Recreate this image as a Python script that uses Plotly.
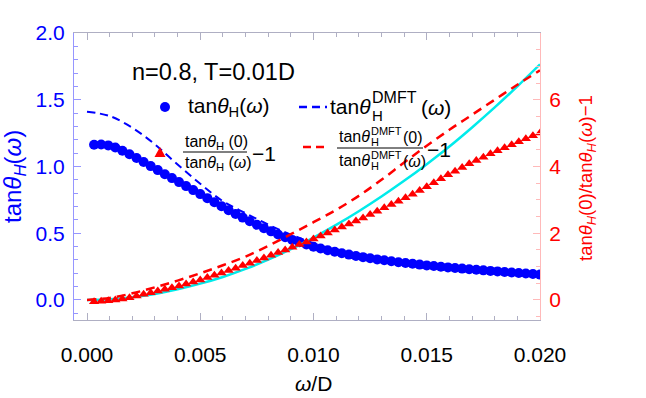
import plotly.graph_objects as go

# ---------------- data ----------------
omega = [0.0003125, 0.000625, 0.0009375, 0.00125, 0.0015625, 0.001875, 0.0021875, 0.0025,
         0.0028125, 0.003125, 0.0034375, 0.00375, 0.0040625, 0.004375, 0.0046875, 0.005,
         0.0053125, 0.005625, 0.0059375, 0.00625, 0.0065625, 0.006875, 0.0071875, 0.0075,
         0.0078125, 0.008125, 0.0084375, 0.00875, 0.0090625, 0.009375, 0.0096875, 0.01,
         0.0103125, 0.010625, 0.0109375, 0.01125, 0.0115625, 0.011875, 0.0121875, 0.0125,
         0.0128125, 0.013125, 0.0134375, 0.01375, 0.0140625, 0.014375, 0.0146875, 0.015,
         0.0153125, 0.015625, 0.0159375, 0.01625, 0.0165625, 0.016875, 0.0171875, 0.0175,
         0.0178125, 0.018125, 0.0184375, 0.01875, 0.0190625, 0.019375, 0.0196875, 0.02]

tan_theta = [1.163, 1.165, 1.158, 1.142, 1.118, 1.092, 1.063, 1.033,
             1.003, 0.973, 0.942, 0.913, 0.883, 0.853, 0.823, 0.793,
             0.763, 0.733, 0.703, 0.673, 0.645, 0.617, 0.590, 0.563,
             0.538, 0.514, 0.491, 0.470, 0.450, 0.432, 0.415, 0.399,
             0.386, 0.373, 0.361, 0.350, 0.340, 0.330, 0.321, 0.312,
             0.304, 0.297, 0.290, 0.283, 0.277, 0.271, 0.265, 0.259,
             0.254, 0.249, 0.244, 0.239, 0.235, 0.230, 0.226, 0.222,
             0.218, 0.214, 0.210, 0.206, 0.202, 0.198, 0.194, 0.190]

ratio_minus1 = [-0.05, -0.04, -0.02, 0.00, 0.03, 0.07, 0.12, 0.17,
                0.22, 0.27, 0.32, 0.37, 0.42, 0.48, 0.54, 0.60,
                0.67, 0.74, 0.81, 0.88, 0.95, 1.03, 1.10, 1.18,
                1.26, 1.34, 1.42, 1.50, 1.58, 1.66, 1.74, 1.83,
                1.92, 2.01, 2.10, 2.19, 2.28, 2.37, 2.46, 2.56,
                2.66, 2.76, 2.86, 2.96, 3.06, 3.17, 3.28, 3.39,
                3.51, 3.63, 3.75, 3.86, 3.97, 4.08, 4.18, 4.28,
                4.38, 4.47, 4.56, 4.65, 4.74, 4.83, 4.92, 5.00]

omega_line = [0.0, 0.001, 0.002, 0.003, 0.004, 0.005, 0.006, 0.007, 0.008, 0.009, 0.010,
              0.011, 0.012, 0.013, 0.014, 0.015, 0.016, 0.017, 0.018, 0.019, 0.020]
tan_theta_dmft = [1.41, 1.378, 1.29, 1.165, 1.015, 0.87, 0.74, 0.65, 0.565, 0.49, 0.425,
                  0.372, 0.330, 0.299, 0.276, 0.258, 0.243, 0.230, 0.218, 0.207, 0.197]
ratio_dmft_minus1 = [0.0, 0.06, 0.2, 0.38, 0.58, 0.8, 1.04, 1.3, 1.62, 1.97, 2.33,
                     2.7, 3.12, 3.6, 4.12, 4.62, 5.1, 5.55, 6.0, 6.45, 6.88]
fit_curve = [0.0, 0.02, 0.08, 0.18, 0.32, 0.49, 0.69, 0.93, 1.21, 1.52, 1.87,
             2.25, 2.66, 3.10, 3.57, 4.07, 4.60, 5.17, 5.77, 6.40, 7.06]

x_ticks = [0.0, 0.005, 0.010, 0.015, 0.020]
x_ticktext = ["0.000", "0.005", "0.010", "0.015", "0.020"]
y2_ticks = [0, 2, 4, 6]

FONT = "Liberation Sans, Arial, sans-serif"
BLUE = "rgb(0,0,255)"
RED = "rgb(255,0,0)"
CYAN = "rgb(0,235,235)"

fig = go.Figure()
fig.add_trace(go.Scatter(x=omega, y=tan_theta, mode="markers", yaxis="y",
                         marker=dict(color=BLUE, size=10, line=dict(width=0))))
fig.add_trace(go.Scatter(x=omega_line, y=tan_theta_dmft, mode="lines", yaxis="y",
                         line=dict(color=BLUE, width=2, dash="8px,5px", shape="spline")))
fig.add_trace(go.Scatter(x=omega_line, y=fit_curve, mode="lines", yaxis="y2",
                         line=dict(color=CYAN, width=2.5, shape="spline")))
fig.add_trace(go.Scatter(x=omega, y=ratio_minus1, mode="markers", yaxis="y2",
                         marker=dict(color=RED, size=9, symbol="triangle-up", line=dict(width=0))))
fig.add_trace(go.Scatter(x=omega_line, y=ratio_dmft_minus1, mode="lines", yaxis="y2",
                         line=dict(color=RED, width=2.5, dash="9px,6px", shape="spline")))

L, R, T, B = 74, 540, 33, 320
W, H = 646, 398


def px(x, y):
    return (x - L) / (R - L), (B - y) / (B - T)


ann = []


def text(x, y, s, size=21, color="black", anchor="left", angle=0):
    ax, ay = px(x, y)
    ann.append(dict(x=ax, y=ay, xref="paper", yref="paper", text=s, showarrow=False,
                    xanchor=anchor, yanchor="middle", textangle=angle,
                    font=dict(family=FONT, size=size, color=color)))


shapes = []


def hline(x0, x1, y, color="black", width=1, dash=None):
    a0, b0 = px(x0, y)
    a1, _ = px(x1, y)
    ln = dict(color=color, width=width)
    if dash:
        ln["dash"] = dash
    shapes.append(dict(type="line", xref="paper", yref="paper", x0=a0, x1=a1, y0=b0, y1=b0, line=ln))


# annotation text
text(130, 72, "n=0.8, T=0.01D", size=23.5)

# legend row 1
a0, b0 = px(160, 102)
a1, b1 = px(170, 112)
shapes.append(dict(type="circle", xref="paper", yref="paper", x0=a0, x1=a1, y0=b0, y1=b1,
                   fillcolor=BLUE, line=dict(width=0)))
text(186, 107, "tan<i>θ</i><sub>H</sub>(<i>ω</i>)", size=21)
hline(299, 327, 107, color=BLUE, width=2.5, dash="8px,5px")
text(328, 106, "tan<i>θ</i>", size=21)
text(370, 97, "DMFT", size=16)
text(370, 115, "H", size=15)
text(419, 108, "(<i>ω</i>)", size=21)

# legend row 2: red triangle + fraction
p1 = px(160, 147)
p2 = px(154.5, 157)
p3 = px(165.5, 157)
shapes.append(dict(type="path", xref="paper", yref="paper",
                   path=f"M {p1[0]},{p1[1]} L {p2[0]},{p2[1]} L {p3[0]},{p3[1]} Z",
                   fillcolor=RED, line=dict(width=0)))
text(183, 142, "tan<i>θ</i><sub>H</sub> (0)", size=16)
hline(183, 247, 152)
text(183, 163, "tan<i>θ</i><sub>H</sub> (<i>ω</i>)", size=16)
text(250, 153, "−1", size=21)

hline(303, 327, 147, color=RED, width=2.5, dash="8px,5px")
text(337, 136, "tan<i>θ</i>", size=16)
text(369, 131, "DMFT", size=11)
text(369, 142, "H", size=11)
text(401, 137, "(0)", size=16)
hline(337, 423, 148)
text(337, 160, "tan<i>θ</i>", size=16)
text(369, 155, "DMFT", size=11)
text(369, 166, "H", size=11)
text(401, 161, "(<i>ω</i>)", size=16)
text(425, 149, "−1", size=21)

# axis titles
text(313, 383, "<i>ω</i>/D", size=21, anchor="center")
text(14, 177, "tan<i>θ</i><sub><i>H</i></sub>(<i>ω</i>)", size=24, color=BLUE, anchor="center", angle=-90)
text(587, 178, "tan<i>θ</i><sub><i>H</i></sub>(0)/tan<i>θ</i><sub><i>H</i></sub>(<i>ω</i>)−1",
     size=18.5, color=RED, anchor="center", angle=-90)

GRAY = "rgb(175,175,195)"
LBLUE = "rgb(150,150,255)"
LRED = "rgb(255,185,185)"

fig.update_layout(
    width=W, height=H, margin=dict(l=L, r=W - R, t=T, b=H - B),
    plot_bgcolor="white", paper_bgcolor="white", showlegend=False,
    annotations=ann, shapes=shapes,
    xaxis=dict(range=[-0.000574, 0.020], tickvals=x_ticks, ticktext=x_ticktext,
               showgrid=False, zeroline=False, showline=True, linecolor=GRAY, linewidth=1,
               mirror="ticks", ticks="inside", ticklen=7, tickcolor=GRAY,
               ticklabelstandoff=16,
               minor=dict(ticks="inside", ticklen=4, dtick=0.001, tick0=0, tickcolor=GRAY),
               tickfont=dict(family=FONT, size=21, color="black")),
    yaxis=dict(range=[-0.15, 2.0], dtick=0.5, tick0=0, tickformat=".1f",
               showgrid=False, zeroline=False, showline=True, linecolor=LBLUE, linewidth=1,
               ticks="inside", ticklen=7, tickcolor=LBLUE, ticklabelstandoff=4,
               minor=dict(ticks="inside", ticklen=4, dtick=0.1, tick0=0, tickcolor=LBLUE),
               tickfont=dict(family=FONT, size=21, color=BLUE)),
    yaxis2=dict(range=[-0.6, 8.0], overlaying="y", side="right", tickvals=y2_ticks,
                showgrid=False, zeroline=False, showline=True, linecolor=LRED, linewidth=1,
                ticks="inside", ticklen=7, tickcolor=LRED, ticklabelstandoff=4,
                minor=dict(ticks="inside", ticklen=4, dtick=0.5, tick0=0, tickcolor=LRED),
                tickfont=dict(family=FONT, size=21, color=RED)),
)

fig.write_html("out.html")
